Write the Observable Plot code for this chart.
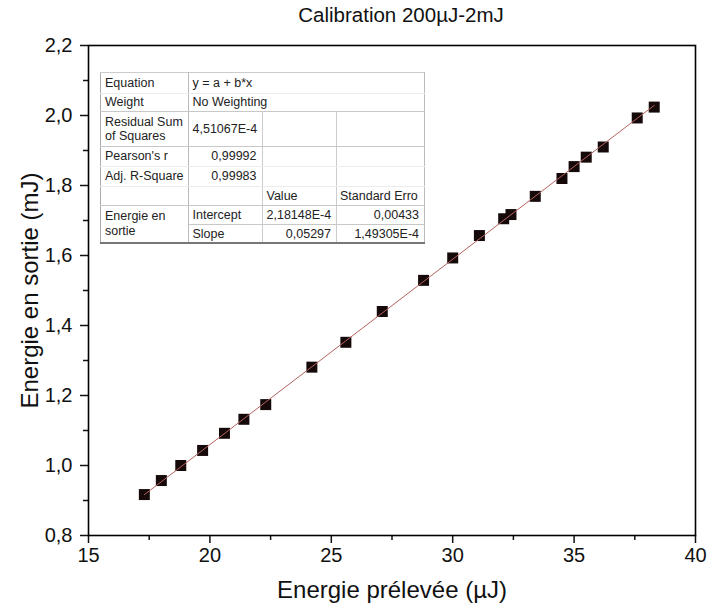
<!DOCTYPE html>
<html>
<head>
<meta charset="utf-8">
<script src="https://cdn.jsdelivr.net/npm/d3@7"></script>
<script src="https://cdn.jsdelivr.net/npm/@observablehq/plot@0.6"></script>
<style>
  html, body { margin: 0; padding: 0; background: #fff; }
  #wrap { position: relative; width: 707px; height: 611px; font-family: "Liberation Sans", Arial, sans-serif; }
  #fit { position: absolute; left: 100px; top: 72px; width: 324px; border-collapse: collapse; table-layout: fixed;
         background: #fff; font-size: 12.5px; color: #222; font-family: "Liberation Sans", Arial, sans-serif;
         border-left: 1px solid #aaa; border-right: 1px solid #bbb; border-top: 1px solid #ccc; border-bottom: 2px solid #777; }
  #fit td { padding: 0 0 0 4px; white-space: nowrap; overflow: hidden; vertical-align: middle; line-height: 14px; }
  #fit td.r { text-align: right; padding: 0 5px 0 0; }
  #fit td.c1 { border-right: 1px solid #bbb; }
  #fit td.v { border-right: 1px solid #ccc; }
  #fit tr.s td { border-bottom: 1px solid #c8c8c8; }
  #fit tr.f td { border-bottom: 1px solid #ececec; }
</style>
</head>
<body>
<div id="wrap"></div>
<script>
// ---- data ----
const energiePrelevee = [17.3, 18.0, 18.8, 19.7, 20.6, 21.4, 22.3, 24.2, 25.6, 27.1, 28.8, 30.0, 31.1, 32.1, 32.4, 33.4, 34.5, 35.0, 35.5, 36.2, 37.6, 38.3];
const energieSortie   = [0.917, 0.957, 1.000, 1.043, 1.092, 1.132, 1.174, 1.281, 1.352, 1.440, 1.529, 1.593, 1.657, 1.705, 1.717, 1.769, 1.820, 1.854, 1.881, 1.910, 1.993, 2.024];
const fitIntercept = 2.18148e-4;
const fitSlope = 0.05297;
const xTicks = [15, 20, 25, 30, 35, 40];
const xMinorTicks = [17.5, 22.5, 27.5, 32.5, 37.5];
const yTicks = [0.8, 1.0, 1.2, 1.4, 1.6, 1.8, 2.0, 2.2];
const yMinorTicks = [0.9, 1.1, 1.3, 1.5, 1.7, 1.9, 2.1];
const chartTitle = "Calibration 200µJ-2mJ";
const xTitle = "Energie prélevée (µJ)";
const yTitle = "Energie en sortie (mJ)";
const tableRows = [
  ["Equation", "y = a + b*x"],
  ["Weight", "No Weighting"],
  ["Residual Sum<br>of Squares", "4,51067E-4"],
  ["Pearson's r", "0,99992"],
  ["Adj. R-Square", "0,99983"]
];
const tableHeader = ["Value", "Standard Erro"];
const tableGroup = "Energie en<br>sortie";
const tableParams = [["Intercept", "2,18148E-4", "0,00433"], ["Slope", "0,05297", "1,49305E-4"]];

// ---- build ----
const points = energiePrelevee.map((x, i) => ({x, y: energieSortie[i]}));
const xExt = d3.extent(energiePrelevee);
const fitLine = xExt.map(x => ({x, y: fitIntercept + fitSlope * x}));
const comma = d => d.toFixed(1).replace(".", ",");

const chart = Plot.plot({
  width: 707, height: 611,
  marginLeft: 88, marginRight: 12, marginTop: 45, marginBottom: 76,
  style: {fontFamily: "'Liberation Sans', Arial, sans-serif", fontSize: "20px", color: "#111", background: "#fff", overflow: "visible"},
  x: {domain: [15, 40]},
  y: {domain: [0.8, 2.2]},
  marks: [
    Plot.axisX(xTicks, {tickSize: 8, tickPadding: 4, tickFormat: d => String(d), label: null, strokeWidth: 1.5, fontSize: 20}),
    Plot.axisX(xMinorTicks, {tickSize: 5, text: null, label: null, strokeWidth: 1.5}),
    Plot.axisY(yTicks, {tickSize: 8, tickPadding: 8, tickFormat: comma, label: null, strokeWidth: 1.5, fontSize: 20}),
    Plot.axisY(yMinorTicks, {tickSize: 5, text: null, label: null, strokeWidth: 1.5}),
    Plot.frame({stroke: "#000", strokeWidth: 1.6}),
    Plot.dot(points, {x: "x", y: "y", symbol: "square", r: 6.2, fill: "#150909", stroke: null}),
    Plot.line(fitLine, {x: "x", y: "y", stroke: "#b4625f", strokeWidth: 1}),
    Plot.text([chartTitle], {frameAnchor: "top", dx: 9, dy: -30, lineAnchor: "middle", fontSize: 20.5, fill: "#111"}),
    Plot.text([xTitle], {frameAnchor: "bottom", dy: 55, lineAnchor: "middle", fontSize: 24, fill: "#111"}),
    Plot.text([yTitle], {frameAnchor: "left", dx: -58, rotate: -90, textAnchor: "middle", lineAnchor: "middle", fontSize: 24, fill: "#111"})
  ]
});
const wrap = document.getElementById("wrap");
wrap.appendChild(chart);

// ---- fit table inset ----
const cw = [87.5, 74, 74.5, 88];
const rh = [20.7, 18, 35.3, 20, 20, 19, 19, 18.7];
let html = `<table id="fit"><colgroup>${cw.map(w => `<col style="width:${w}px">`).join("")}</colgroup>`;
html += `<tr class="f" style="height:${rh[0]}px"><td class="c1">${tableRows[0][0]}</td><td colspan="3">${tableRows[0][1]}</td></tr>`;
html += `<tr class="s" style="height:${rh[1]}px"><td class="c1">${tableRows[1][0]}</td><td colspan="3">${tableRows[1][1]}</td></tr>`;
html += `<tr class="s" style="height:${rh[2]}px"><td class="c1">${tableRows[2][0]}</td><td class="v">${tableRows[2][1]}</td><td class="v"></td><td></td></tr>`;
html += `<tr class="f" style="height:${rh[3]}px"><td class="c1">${tableRows[3][0]}</td><td class="v r">${tableRows[3][1]}</td><td class="v"></td><td></td></tr>`;
html += `<tr class="f" style="height:${rh[4]}px"><td class="c1">${tableRows[4][0]}</td><td class="v r">${tableRows[4][1]}</td><td class="v"></td><td></td></tr>`;
html += `<tr class="s" style="height:${rh[5]}px"><td class="c1"></td><td class="v"></td><td class="v">${tableHeader[0]}</td><td style="padding-left:3px">${tableHeader[1]}</td></tr>`;
html += `<tr class="s" style="height:${rh[6]}px"><td class="c1" rowspan="2" style="line-height:15px;border-bottom:none">${tableGroup}</td><td class="v">${tableParams[0][0]}</td><td class="v">${tableParams[0][1]}</td><td class="r">${tableParams[0][2]}</td></tr>`;
html += `<tr style="height:${rh[7]}px"><td class="v">${tableParams[1][0]}</td><td class="v r">${tableParams[1][1]}</td><td class="r">${tableParams[1][2]}</td></tr>`;
html += `</table>`;
wrap.insertAdjacentHTML("beforeend", html);
</script>
</body>
</html>
